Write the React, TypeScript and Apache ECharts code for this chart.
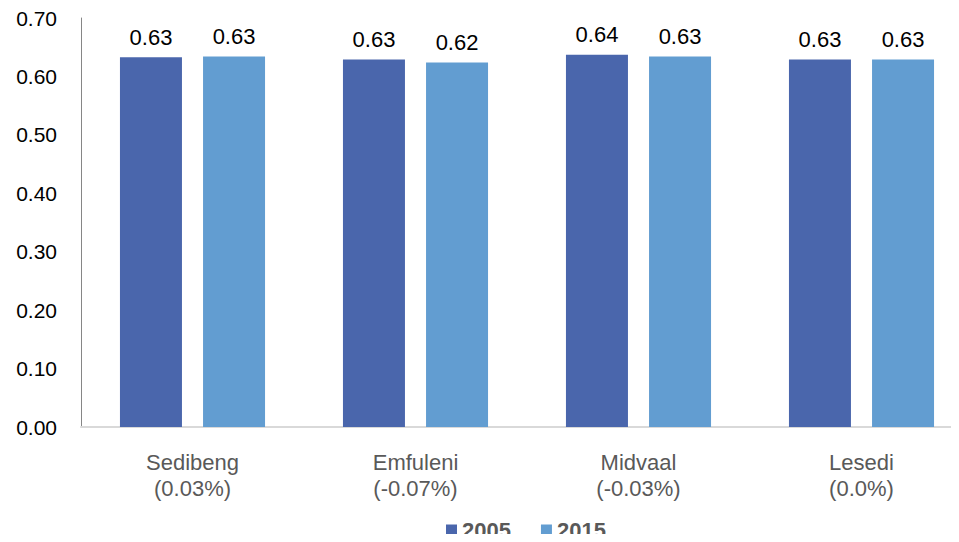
import React, { useEffect, useRef } from "react";
import * as echarts from "echarts";

const categories = ["Sedibeng", "Emfuleni", "Midvaal", "Lesedi"];
const growthLabels = ["(0.03%)", "(-0.07%)", "(-0.03%)", "(0.0%)"];
const values2005 = [0.633, 0.629, 0.637, 0.629];
const values2015 = [0.634, 0.624, 0.634, 0.629];
const seriesNames = ["2005", "2015"];

export default function App() {
  const ref = useRef<HTMLDivElement>(null);
  useEffect(() => {
    if (!ref.current) return;
    const chart = echarts.init(ref.current, null, { renderer: "svg" });
    const font = "'Liberation Sans', Arial, sans-serif";
    const labelStyle = {
      show: true,
      position: "top",
      distance: 9,
      color: "#000000",
      fontSize: 22,
      fontFamily: font,
      formatter: (p: any) => Number(p.value).toFixed(2),
    };
    chart.setOption({
      animation: false,
      textStyle: { fontFamily: font },
      grid: { left: 81, top: 18, width: 892, height: 409, containLabel: false },
      legend: {
        left: 446,
        top: 518,
        padding: 0,
        itemWidth: 11,
        itemHeight: 11,
        itemGap: 30,
        icon: "rect",
        textStyle: { fontSize: 22, lineHeight: 24, fontWeight: "bold", color: "#595959", fontFamily: font },
        data: seriesNames,
      },
      xAxis: {
        type: "category",
        data: categories.map((c, i) => c + "\n" + growthLabels[i]),
        axisLine: { show: true, lineStyle: { color: "#d9d9d9", width: 2 } },
        axisTick: { show: false },
        axisLabel: {
          color: "#595959",
          fontSize: 22,
          lineHeight: 26,
          margin: 22,
          fontFamily: font,
          interval: 0,
        },
      },
      yAxis: {
        type: "value",
        min: 0,
        max: 0.7,
        interval: 0.1,
        axisLine: { show: true, lineStyle: { color: "#868686", width: 1 } },
        axisTick: { show: false },
        splitLine: { show: false },
        axisLabel: {
          color: "#000000",
          fontSize: 21,
          margin: 24,
          fontFamily: font,
          formatter: (v: number) => v.toFixed(2),
        },
      },
      series: [
        {
          name: seriesNames[0],
          type: "bar",
          data: values2005,
          barWidth: 62,
          barGap: "34%",
          itemStyle: { color: "#4A66AC" },
          label: labelStyle,
        },
        {
          name: seriesNames[1],
          type: "bar",
          data: values2015,
          barWidth: 62,
          itemStyle: { color: "#629DD1" },
          label: labelStyle,
        },
      ],
    });
    return () => chart.dispose();
  }, []);
  return (
    <div style={{ width: 959, height: 542, margin: -8, overflow: "hidden", position: "relative" }}>
      <div ref={ref} style={{ width: 990, height: 542 }} />
    </div>
  );
}
